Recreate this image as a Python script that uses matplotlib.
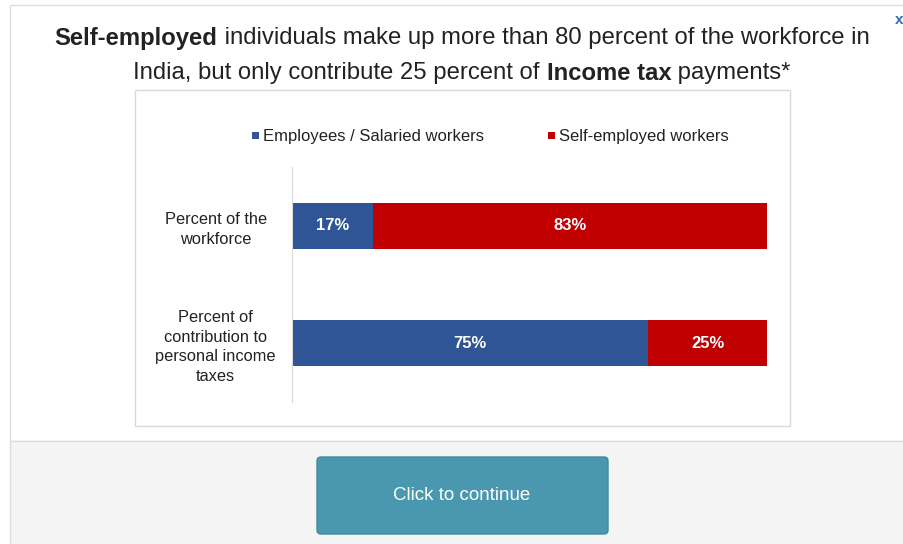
import matplotlib.pyplot as plt
from matplotlib.patches import Rectangle, FancyBboxPatch

categories = ["Percent of the\nworkforce", "Percent of\ncontribution to\npersonal income\ntaxes"]
series_names = ["Employees / Salaried workers", "Self-employed workers"]
employees = [17, 75]
self_employed = [83, 25]

blue = "#2f5597"
red = "#c00000"

W, H = 904, 544
fig = plt.figure(figsize=(W / 100, H / 100), dpi=100)
fig.patch.set_facecolor("white")
plt.rcParams["font.family"] = ["Liberation Sans", "DejaVu Sans"]

# page background: white panel with grey footer
bg = fig.add_axes([0, 0, 1, 1])
bg.set_xlim(0, W)
bg.set_ylim(H, 0)
bg.axis("off")
bg.add_patch(Rectangle((10, 5), 900, 436, facecolor="white", edgecolor="#dddddd", lw=1))
bg.add_patch(Rectangle((10, 441), 900, 110, facecolor="#f4f4f4", edgecolor="#dddddd", lw=1))
bg.add_patch(Rectangle((135, 90), 655, 336, facecolor="white", edgecolor="#d9d9d9", lw=1))
bg.add_patch(FancyBboxPatch((319, 459), 287, 73, boxstyle="round,pad=2,rounding_size=4",
                            facecolor="#4a98b0", edgecolor="#3f8aa2", lw=1))
bg.text(462, 495, "Click to continue", color="white", fontsize=13.5, ha="center", va="center")
bg.text(899, 20, "x", color="#2f6db3", fontsize=11, fontweight="bold", ha="center", va="center")

# headline with bold phrases
t1 = [("Self-employed", "bold"), (" individuals make up more than 80 percent of the workforce in", "normal")]
t2 = [("India, but only contribute 25 percent of ", "normal"), ("Income tax", "bold"), (" payments*", "normal")]
renderer = fig.canvas.get_renderer()
for parts, y in [(t1, 38), (t2, 73)]:
    texts = [bg.text(0, y, s, fontsize=17.2, fontweight=w, color="#222222", va="center") for s, w in parts]
    widths = [t.get_window_extent(renderer).width for t in texts]
    x = (W - sum(widths)) / 2 + 10
    for t, w in zip(texts, widths):
        t.set_x(x)
        x += w

# legend
for x, c, name in [(256, blue, series_names[0]), (552, red, series_names[1])]:
    bg.add_patch(Rectangle((x - 4, 132), 7, 7, facecolor=c, edgecolor="none"))
    bg.text(x + 7, 136, name, fontsize=12, color="#222222", va="center")

# chart
ax = fig.add_axes([292 / W, 1 - 402 / H, (767 - 292) / W, (402 - 167) / H])
ypos = list(range(len(categories)))
ax.barh(ypos, employees, height=0.39, color=blue)
ax.barh(ypos, self_employed, left=employees, height=0.39, color=red)
for y, e, s in zip(ypos, employees, self_employed):
    ax.text(e / 2, y, f"{e}%", color="white", fontsize=12, fontweight="bold", ha="center", va="center")
    ax.text(e + s / 2, y, f"{s}%", color="white", fontsize=12, fontweight="bold", ha="center", va="center")
ax.set_xlim(0, 100)
ax.set_ylim(1.5, -0.5)
ax.set_xticks([])
ax.set_yticks(ypos)
ax.set_yticklabels(categories, fontsize=11.8, color="#222222", ha="center", linespacing=1.38)
ax.tick_params(axis="y", length=0, pad=55)
for side in ["top", "right", "bottom"]:
    ax.spines[side].set_visible(False)
ax.spines["left"].set_color("#d9d9d9")
ax.set_facecolor("none")

fig.savefig("out.png", dpi=100)
